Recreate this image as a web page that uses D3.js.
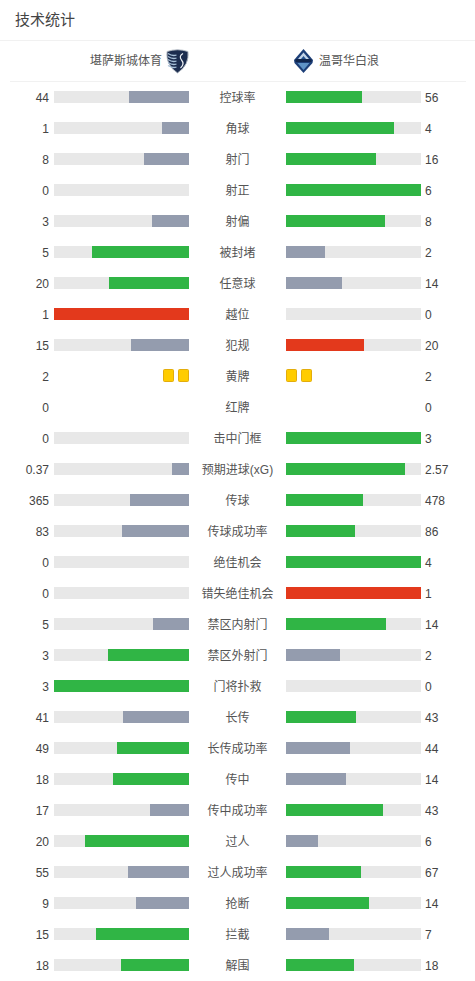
<!DOCTYPE html>
<html><head><meta charset="utf-8">
<script src="https://cdn.jsdelivr.net/npm/d3@7"></script>
<style>html,body{margin:0;padding:0;background:#fff;overflow:hidden}svg{display:block}
text{font-family:"Liberation Sans","Noto Sans CJK SC",sans-serif}</style></head>
<body><div id="chart"></div>
<script>
const title = "技术统计";
const homeTeam = "堪萨斯城体育";
const awayTeam = "温哥华白浪";
const categories = ["控球率","角球","射门","射正","射偏","被封堵","任意球","越位","犯规","黄牌","红牌","击中门框","预期进球(xG)","传球","传球成功率","绝佳机会","错失绝佳机会","禁区内射门","禁区外射门","门将扑救","长传","长传成功率","传中","传中成功率","过人","过人成功率","抢断","拦截","解围"];
const homeValues = [44,1,8,0,3,5,20,1,15,2,0,0,0.37,365,83,0,0,5,3,3,41,49,18,17,20,55,9,15,18];
const awayValues = [56,4,16,6,8,2,14,0,20,2,0,3,2.57,478,86,4,1,14,2,0,43,44,14,43,6,67,14,7,18];
const badStats = ["越位","犯规","错失绝佳机会"];
const cardStats = ["黄牌","红牌"];

const W = 475, H = 981;
const svg = d3.select("#chart").append("svg").attr("width",W).attr("height",H);
const C = {green:"#30b545",grey:"#949cae",red:"#e3391c",track:"#e8e8e8",num:"#444",label:"#555"};

svg.append("text").attr("x",15).attr("y",25).attr("font-size",15).attr("fill","#444").text(title);
svg.append("rect").attr("x",0).attr("y",40).attr("width",W).attr("height",1).attr("fill","#f1f1f1");
svg.append("rect").attr("x",10).attr("y",81).attr("width",456).attr("height",1).attr("fill","#f1f1f1");
svg.append("text").attr("x",162).attr("y",65).attr("text-anchor","end").attr("font-size",12).attr("fill","#555").text(homeTeam);
svg.append("text").attr("x",319).attr("y",65).attr("font-size",12).attr("fill","#555").text(awayTeam);

// Home crest
const h = svg.append("g").attr("transform","translate(177.5,61)");
h.append("path").attr("d","M-10.5,-9.5 Q0,-13 10.5,-9.5 Q12,4 0,12 Q-12,4 -10.5,-9.5Z").attr("fill","#1c2d4f").attr("stroke","#b7bdc6").attr("stroke-width",0.9);
[-6,-3,0,3,6].forEach(y=>h.append("path").attr("d",`M-9.5,${y-1.5} Q-5,${y+1.5} -1,${y}`).attr("fill","none").attr("stroke","#a8c0d8").attr("stroke-width",1.3));
h.append("path").attr("d","M5.5,-7.5 Q1,-5 4,-1 Q7.5,3 3,7").attr("fill","none").attr("stroke","#eef2f6").attr("stroke-width",1.2);
// Away crest
const a = svg.append("g").attr("transform","translate(303.5,61)");
a.append("path").attr("d","M0,-12 L9.5,-1 L9,2 L0,12 L-9,2 L-9.5,-1Z").attr("fill","#1d3f78");
a.append("path").attr("d","M0,-8.5 L5.5,-2 L-5.5,-2Z").attr("fill","#c4d5e8");
a.append("path").attr("d","M0,-5 L2.5,-2 L-2.5,-2Z").attr("fill","#23528f");
a.append("rect").attr("x",-8).attr("y",-2).attr("width",16).attr("height",3).attr("fill","#11264d");
a.append("path").attr("d","M-6,2 L6,2 L0,9Z").attr("fill","#5f93c6");

const rowY = d3.scalePoint().domain(categories).range([97,965]);
const barW = d3.scaleLinear().domain([0,1]).range([0,135]);
const leftEnd = 189, rightStart = 286, barH = 12;

categories.forEach((cat,i)=>{
  const y = rowY(cat), hv = homeValues[i], av = awayValues[i];
  const g = svg.append("g");
  g.append("text").attr("x",49).attr("y",y+4.5).attr("text-anchor","end").attr("font-size",12).attr("fill",C.num).text(hv);
  g.append("text").attr("x",425).attr("y",y+4.5).attr("font-size",12).attr("fill",C.num).text(av);
  g.append("text").attr("x",237.5).attr("y",y+4.5).attr("text-anchor","middle").attr("font-size",12).attr("fill",C.label).text(cat);
  if (cardStats.includes(cat)) {
    d3.range(hv).forEach(k=>g.append("rect").attr("x",leftEnd-10.5-15*k).attr("y",y-6.5).attr("width",10).attr("height",12).attr("rx",1).attr("fill","#ffcc00").attr("stroke","#e3ad0c"));
    d3.range(av).forEach(k=>g.append("rect").attr("x",rightStart+0.5+15*k).attr("y",y-6.5).attr("width",10).attr("height",12).attr("rx",1).attr("fill","#ffcc00").attr("stroke","#e3ad0c"));
    return;
  }
  const total = hv+av;
  const hs = total?hv/total:0, as = total?av/total:0;
  const bad = badStats.includes(cat);
  const color = (mine,other)=> mine>=other ? (bad?C.red:C.green) : C.grey;
  g.append("rect").attr("x",leftEnd-barW(1)).attr("y",y-barH/2).attr("width",barW(1)).attr("height",barH).attr("fill",C.track);
  g.append("rect").attr("x",rightStart).attr("y",y-barH/2).attr("width",barW(1)).attr("height",barH).attr("fill",C.track);
  const hw = Math.ceil(barW(hs)), aw = Math.ceil(barW(as));
  g.append("rect").attr("x",leftEnd-hw).attr("y",y-barH/2).attr("width",hw).attr("height",barH).attr("fill",color(hv,av));
  g.append("rect").attr("x",rightStart).attr("y",y-barH/2).attr("width",aw).attr("height",barH).attr("fill",color(av,hv));
});
</script></body></html>
